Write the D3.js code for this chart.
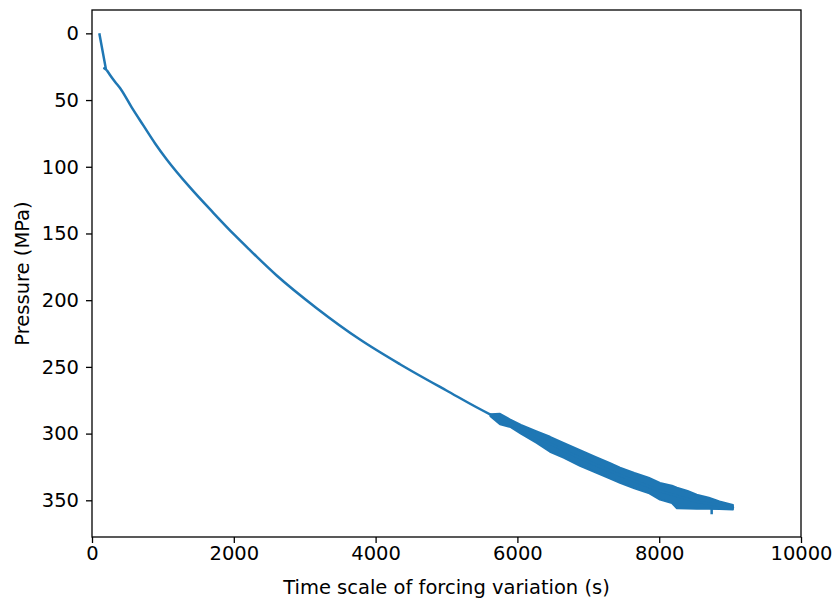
<!DOCTYPE html>
<html>
<head>
<meta charset="utf-8">
<script src="https://cdn.jsdelivr.net/npm/d3@7"></script>
<style>
  body { margin: 0; background: #fff; }
  text { font-family: "DejaVu Sans", sans-serif; }
</style>
</head>
<body>
<div id="viz"></div>
<script>
// Start of the run: short drop and a small hook
var hookTime = [103, 197, 172, 207]
var hookPressure = [0, 27, 26.2, 27.5]

// Smooth part of the pressure curve
var timeS = [207, 254, 324, 395, 560, 724, 890, 1054, 1382, 1711, 2017, 2228, 2605,
             3169, 3780, 4344, 4993, 5614, 5755]
var pressure = [27.5, 31.2, 36.3, 41, 55.5, 69, 82.5, 94.5, 115.5, 134.5, 151.5, 162.5, 181.5,
                206, 229.5, 248, 267.5, 285.5, 289]

// Tail: band centre and the last jump back
var tailTime = [5755, 6272, 6883, 7447, 8011, 8529, 9040, 8740, 8740]
var tailPressure = [289, 302.6, 318.3, 331.2, 343, 351, 355.4, 356, 360.5]

// Envelope of the oscillating section (min / max pressure)
var bandTime = [5620, 5755, 5900, 6050, 6272, 6460, 6650, 6883, 7100, 7300, 7447, 7650,
                7850, 8011, 8180, 8250, 8400, 8529, 8700, 8850, 9040]
var bandLow  = [285.5, 285.2, 289.5, 293.5, 298.4, 302.4, 307, 312.5, 317.5, 322, 325.6, 329.5,
                333, 337, 339, 340.5, 343, 345.8, 348, 350.8, 353.5]
var bandHigh = [287, 293, 295, 300, 306.9, 313.6, 318, 324.1, 329, 333.5, 336.9, 341,
                344.5, 349.5, 352, 356, 356.2, 356.4, 356.4, 356.6, 356.8]

var xTicks = [0, 2000, 4000, 6000, 8000, 10000]
var yTicks = [0, 50, 100, 150, 200, 250, 300, 350]

var W = 835, H = 604
var margin = {left: 92, top: 10, right: 34, bottom: 67}
var color = "#1f77b4"
var fontSize = "19.5px"

var svg = d3.select("#viz")
    .append("svg")
    .attr("width", W)
    .attr("height", H)

var x = d3.scaleLinear().domain([0, 10000]).range([margin.left, W - margin.right])
var y = d3.scaleLinear().domain([-17.5, 377.5]).range([margin.top, H - margin.bottom])

var zip = (a, b) => a.map((t, i) => [t, b[i]])
var bandData = bandTime.map((t, i) => [t, bandLow[i], bandHigh[i]])

// oscillating band
svg.append("path")
    .datum(bandData)
    .attr("d", d3.area().x(d => x(d[0])).y0(d => y(d[1])).y1(d => y(d[2])))
    .style("fill", color)
    .style("stroke", color)
    .style("stroke-width", 2)
    .style("stroke-linejoin", "round")

// lines
var straight = d3.line().x(d => x(d[0])).y(d => y(d[1]))
var smooth = d3.line().x(d => x(d[0])).y(d => y(d[1])).curve(d3.curveMonotoneX)

function drawLine(data, gen) {
    svg.append("path")
        .datum(data)
        .attr("d", gen)
        .style("fill", "none")
        .style("stroke", color)
        .style("stroke-width", 2.5)
        .style("stroke-linejoin", "round")
        .style("stroke-linecap", "butt")
}
drawLine(zip(hookTime, hookPressure), straight)
drawLine(zip(timeS, pressure), smooth)
drawLine(zip(tailTime, tailPressure), straight)

// axes
svg.append("g")
    .attr("transform", "translate(0," + (H - margin.bottom) + ")")
    .call(d3.axisBottom(x).tickValues(xTicks).tickFormat(d3.format("d"))
        .tickSize(6).tickPadding(3.5).tickSizeOuter(0))

svg.append("g")
    .attr("transform", "translate(" + margin.left + ",0)")
    .call(d3.axisLeft(y).tickValues(yTicks).tickFormat(d3.format("d"))
        .tickSize(6).tickPadding(7).tickSizeOuter(0))

svg.selectAll(".domain").remove()
svg.selectAll(".tick line").style("stroke", "#000").style("stroke-width", 1.3)
svg.selectAll(".tick text")
    .style("font-family", "DejaVu Sans")
    .style("font-size", fontSize)
    .style("fill", "#000")

// frame
svg.append("rect")
    .attr("x", margin.left)
    .attr("y", margin.top)
    .attr("width", W - margin.left - margin.right)
    .attr("height", H - margin.top - margin.bottom)
    .style("fill", "none")
    .style("stroke", "#000")
    .style("stroke-width", 1.3)

// labels
svg.append("text")
    .attr("x", (margin.left + W - margin.right) / 2)
    .attr("y", 594)
    .attr("text-anchor", "middle")
    .style("font-size", fontSize)
    .text("Time scale of forcing variation (s)")

svg.append("text")
    .attr("transform", "translate(29," + ((margin.top + H - margin.bottom) / 2) + ") rotate(-90)")
    .attr("text-anchor", "middle")
    .style("font-size", fontSize)
    .text("Pressure (MPa)")
</script>
</body>
</html>
